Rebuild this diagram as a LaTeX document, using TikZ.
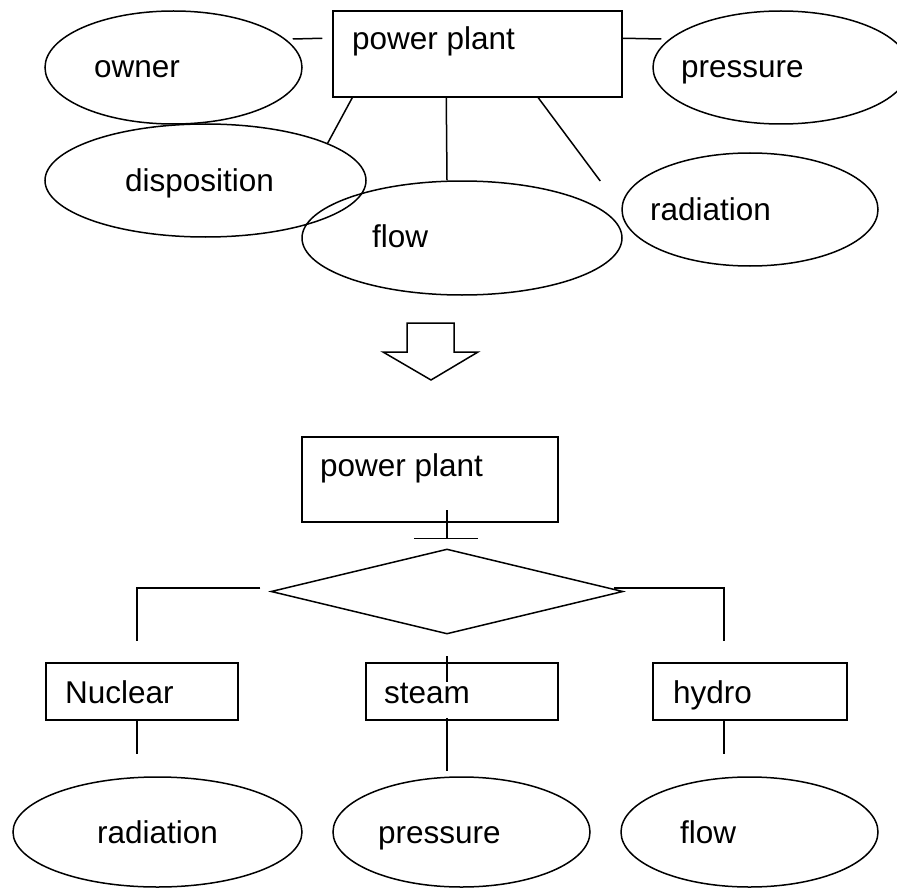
\documentclass[tikz,border=0pt]{standalone}
\usepackage{fontspec}
\setmainfont{Liberation Sans}
\usetikzlibrary{shapes.geometric}

\begin{document}
\begin{tikzpicture}[x=1pt,y=-1pt,
	attr/.style={draw,ellipse,line width=1.5pt,inner sep=0pt},
	ent/.style={draw,rectangle,line width=1.5pt,inner sep=0pt},
	rel/.style={draw,diamond,line width=1.5pt,inner sep=0pt},
	txt/.style={anchor=base west,inner sep=0pt,font=\fontsize{31.5}{36}\selectfont},
	link/.style={line width=1.5pt}]
	      \useasboundingbox (0,0) rectangle (897,888);
	      % first version
	      \node[ent,minimum width=289pt,minimum height=86pt] (plant) at (477.5,54) {};
	      \node[attr,minimum width=257pt,minimum height=113pt] (owner) at (173.5,67.5) {};
	      \node[attr,minimum width=256pt,minimum height=113pt] (pres) at (781,67.5) {};
	      \node[attr,minimum width=321pt,minimum height=113pt] (disp) at (205.5,180.5) {};
	      \node[attr,minimum width=320pt,minimum height=114pt] (flow) at (462,238) {};
	      \node[attr,minimum width=256pt,minimum height=113pt] (rad) at (750,209.5) {};
	      \node[txt] (plant-t) at (352,50) {power plant};
	      \node[txt] (owner-t) at (94,78) {owner};
	      \node[txt] (pres-t) at (681,78) {pressure};
	      \node[txt] (disp-t) at (125,191.5) {disposition};
	      \node[txt] (flow-t) at (372,247) {flow};
	      \node[txt] (rad-t) at (650,220) {radiation};
	      \draw[link] ([shift={(-10,28)}]plant.north west) -- ([shift={(-10,-28.5)}]owner.east);
	      \draw[link] ([shift={(0,28)}]plant.north east) -- ([shift={(9,-28.5)}]pres.west);
	      \draw[link] ([xshift=20pt]plant.south west) -- (disp.17);
	      \draw[link] ([xshift=114pt]plant.south west) -- ([xshift=-15pt]flow.north);
	      \draw[link] ([xshift=206pt]plant.south west) -- ([shift={(-21,-28.5)}]rad.west);
	      % arrow
	      \draw[link] (407,323) -- (454,323) -- (454,352) -- (478,352) -- (431,380) -- (383,352) -- (407,352) -- cycle;
	      % second version
	      \node[ent,minimum width=256pt,minimum height=85pt] (plant2) at (430,479.5) {};
	      \node[rel,minimum width=352pt,minimum height=85pt] (kind) at (447,591.5) {};
	      \node[ent,minimum width=192pt,minimum height=57pt] (nuc) at (142,691.5) {};
	      \node[ent,minimum width=192pt,minimum height=57pt] (stm) at (462,691.5) {};
	      \node[ent,minimum width=194pt,minimum height=57pt] (hyd) at (750,691.5) {};
	      \node[attr,minimum width=289pt,minimum height=110pt] (rad2) at (157.5,832) {};
	      \node[attr,minimum width=257pt,minimum height=110pt] (pres2) at (461.5,832) {};
	      \node[attr,minimum width=257pt,minimum height=110pt] (flow2) at (749.5,832) {};
	      \node[txt] (plant2-t) at (320,476) {power plant};
	      \node[txt] (nuc-t) at (65,703) {Nuclear};
	      \node[txt] (stm-t) at (384,703) {steam};
	      \node[txt] (hyd-t) at (673,703) {hydro};
	      \node[txt] (rad2-t) at (97,843) {radiation};
	      \node[txt] (pres2-t) at (378,843) {pressure};
	      \node[txt] (flow2-t) at (680,843) {flow};
	      \draw[link] ([yshift=38pt]kind.north) -- ([yshift=10pt]kind.north);
	      \draw[link] ([shift={(-33,-10)}]kind.north) -- ([shift={(31,-10)}]kind.north);
	      \draw[link] ([shift={(-10,-3.5)}]kind.west) -| ([shift={(-5,-21)}]nuc.north);
	      \draw[link] ([shift={(-10,-3.5)}]kind.east) -| ([shift={(-26,-21)}]hyd.north);
	      \draw[link] ([shift={(-15,-6)}]stm.north) -- ([shift={(-15,20)}]stm.north);
	      \draw[link] ([xshift=-5pt]nuc.south) -- ([shift={(-5,33)}]nuc.south);
	      \draw[link] ([shift={(-15,-3)}]stm.south) -- ([shift={(-14.5,-5)}]pres2.north);
	      \draw[link] ([xshift=-26pt]hyd.south) -- ([shift={(-26,33)}]hyd.south);
\end{tikzpicture}
\end{document}
